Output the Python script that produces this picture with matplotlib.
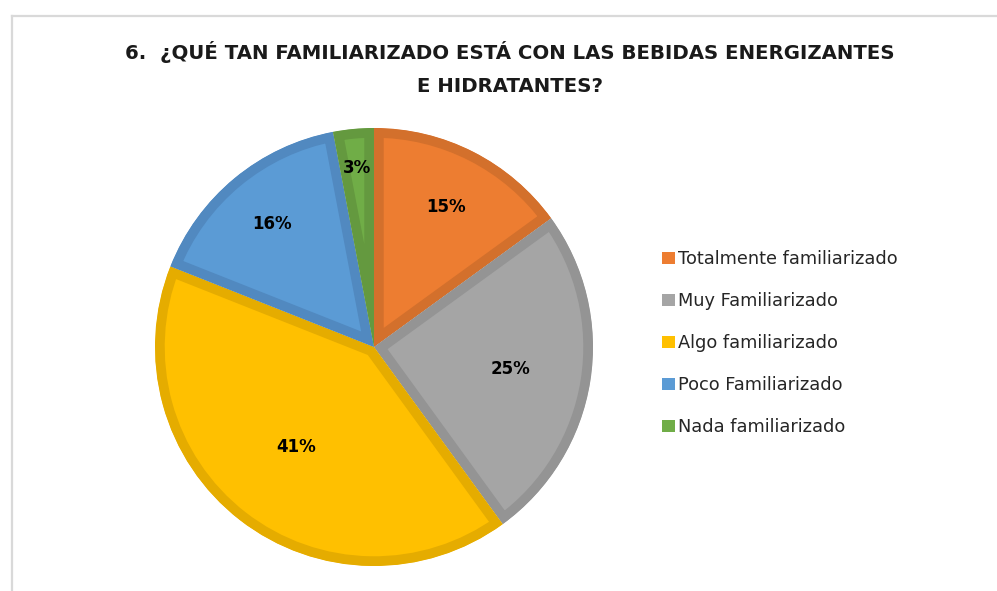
#!/usr/bin/env python3
"""Pie chart: ¿Qué tan familiarizado está con las bebidas energizantes e hidratantes?"""

import matplotlib
matplotlib.use('Agg')
import numpy as np
import matplotlib.pyplot as plt
from matplotlib.patches import Patch
from matplotlib.lines import Line2D

#--- DATA -------------------------------------------------------------------#

categories = ['Totalmente familiarizado', 'Muy Familiarizado',
              'Algo familiarizado', 'Poco Familiarizado', 'Nada familiarizado']
values = [15, 25, 41, 16, 3]
face_colors = ['#ED7D31', '#A5A5A5', '#FFC000', '#5B9BD5', '#70AD47']
edge_colors = ['#D3702C', '#949494', '#E5AC00', '#5189C0', '#64993F']
title = '6.  ¿QUÉ TAN FAMILIARIZADO ESTÁ CON LAS BEBIDAS ENERGIZANTES\nE HIDRATANTES?'

#--- END DATA ---------------------------------------------------------------#

W, H = 997, 591
fig = plt.figure(figsize=(W / 100, H / 100), dpi=100)
fig.patch.set_facecolor('white')

# Pie axes: centre (374, 347) px, radius ~219 px
cx, cy, r = 374, 347, 219
ax = fig.add_axes([(cx - r) / W, (H - cy - r) / H, 2 * r / W, 2 * r / H])

wedges, texts, autotexts = ax.pie(
    values, colors=face_colors, startangle=90, counterclock=False,
    autopct='%1.0f%%', pctdistance=0.68, radius=1.0,
    textprops={'fontsize': 12, 'fontweight': 'bold', 'color': 'black'})

# Darker inner border on each slice (stroke clipped to the slice itself)
for w, ec in zip(wedges, edge_colors):
    w.set_edgecolor(ec)
    w.set_linewidth(14)
    w.set_joinstyle('miter')
    w.set_clip_path(w)
    w.set_clip_on(True)

# nudge label radii a bit like the original's best-fit placement
label_r = [0.72, 0.63, 0.58, 0.73, 0.82]
theta = 90.0
for t, v, lr in zip(autotexts, values, label_r):
    mid = np.deg2rad(theta - v * 3.6 / 2)
    t.set_position((lr * np.cos(mid), lr * np.sin(mid)))
    theta -= v * 3.6

ax.set_xlim(-1, 1)
ax.set_ylim(-1, 1)
ax.set_aspect('equal')
ax.axis('off')

# Title
fig.text(510 / W, 1 - 68.5 / H, title, ha='center', va='center',
         fontsize=14.2, fontweight='bold', linespacing=1.9,
         color='#1a1a1a')

# Legend
handles = [Patch(facecolor=c, edgecolor='none') for c in face_colors]
fig.legend(handles, categories, loc='upper left',
           bbox_to_anchor=(655 / W, 1 - 243 / H), frameon=False,
           fontsize=12.8, handlelength=0.72, handleheight=0.72,
           handletextpad=0.2, labelspacing=1.35, borderaxespad=0,
           labelcolor='#262626')

# Chart frame (top and left edges visible)
fig.add_artist(Line2D([11.5 / W, 1], [1 - 16 / H, 1 - 16 / H],
                      transform=fig.transFigure, color='#d9d9d9', lw=1.6))
fig.add_artist(Line2D([11.5 / W, 11.5 / W], [0, 1 - 16 / H],
                      transform=fig.transFigure, color='#d9d9d9', lw=1.6))

plt.savefig('out.png', dpi=100)
